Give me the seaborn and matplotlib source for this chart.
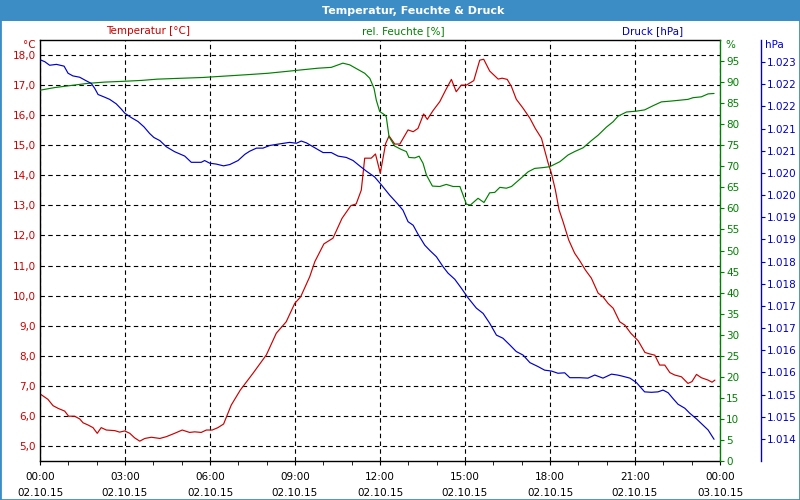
import numpy as np
import matplotlib
matplotlib.use("Agg")
import matplotlib.pyplot as plt
import matplotlib.ticker as mticker
from matplotlib.patches import Rectangle
import seaborn as sns

# ---------------- data (hours since 02.10.15 00:00) ----------------
temp_h = [0.02, 0.28, 0.46, 0.64, 0.87, 1.01, 1.22, 1.40, 1.52, 1.69, 1.87, 2.02, 2.16, 2.34, 2.64,
          2.81, 2.99, 3.17, 3.34, 3.52, 3.70, 3.93, 4.23, 4.46, 4.75, 5.02, 5.28, 5.46, 5.69, 5.87,
          6.08, 6.28, 6.48, 6.75, 7.07, 7.52, 7.99, 8.34, 8.69, 8.99, 9.20, 9.52, 9.70, 10.02, 10.34,
          10.66, 10.97, 11.16, 11.34, 11.46, 11.69, 11.84, 12.01, 12.20, 12.32, 12.52, 12.70, 12.99,
          13.17, 13.34, 13.54, 13.67, 13.87, 14.11, 14.32, 14.52, 14.69, 14.87, 15.05, 15.31, 15.52,
          15.66, 15.87, 16.17, 16.31, 16.49, 16.64, 16.81, 17.05, 17.29, 17.48, 17.70, 17.81, 17.93,
          18.05, 18.19, 18.32, 18.46, 18.66, 18.87, 19.05, 19.25, 19.46, 19.70, 19.87, 20.05, 20.23,
          20.46, 20.64, 20.85, 21.11, 21.35, 21.52, 21.70, 21.87, 22.05, 22.23, 22.40, 22.64, 22.87,
          23.01, 23.17, 23.34, 23.58, 23.72, 23.82]
temp_c = [6.72, 6.55, 6.34, 6.25, 6.16, 5.99, 5.99, 5.90, 5.77, 5.70, 5.61, 5.42, 5.61, 5.53, 5.51,
          5.46, 5.50, 5.42, 5.27, 5.16, 5.25, 5.29, 5.25, 5.31, 5.42, 5.53, 5.45, 5.47, 5.45, 5.53,
          5.53, 5.61, 5.73, 6.36, 6.86, 7.42, 8.03, 8.75, 9.13, 9.74, 9.96, 10.63, 11.13, 11.72, 11.91,
          12.57, 12.99, 13.05, 13.51, 14.57, 14.57, 14.71, 14.07, 15.06, 15.31, 15.04, 15.04, 15.51,
          15.45, 15.56, 16.04, 15.86, 16.15, 16.45, 16.84, 17.19, 16.78, 17.00, 17.00, 17.15, 17.83,
          17.86, 17.47, 17.20, 17.23, 17.19, 16.95, 16.53, 16.23, 15.90, 15.56, 15.23, 14.84, 14.42,
          14.07, 13.51, 12.85, 12.46, 11.85, 11.41, 11.16, 10.85, 10.58, 10.08, 9.96, 9.74, 9.58,
          9.13, 9.02, 8.75, 8.50, 8.11, 8.06, 8.02, 7.69, 7.69, 7.44, 7.36, 7.30, 7.08,
          7.14, 7.38, 7.27, 7.19, 7.12, 7.19]

hum_h = [0.02, 0.52, 1.10, 1.69, 2.28, 2.99, 3.58, 4.14, 4.93, 5.75, 6.46, 7.40, 8.05, 8.64, 9.22,
         9.81, 10.28, 10.69, 10.93, 11.22, 11.46, 11.64, 11.79, 11.87, 11.99, 12.17, 12.22, 12.32,
         12.52, 12.75, 12.93, 13.02, 13.23, 13.38, 13.52, 13.64, 13.85, 14.11, 14.34, 14.58, 14.82,
         14.93, 15.05, 15.19, 15.46, 15.67, 15.87, 16.05, 16.23, 16.46, 16.64, 16.93, 17.23, 17.46,
         17.76, 17.99, 18.35, 18.64, 18.87, 19.17, 19.46, 19.70, 19.99, 20.23, 20.40, 20.70, 21.05,
         21.34, 21.64, 21.93, 22.28, 22.58, 22.87, 23.05, 23.34, 23.58, 23.79]
hum_pct = [88.1, 88.7, 89.2, 89.7, 90.0, 90.2, 90.4, 90.7, 90.9, 91.1, 91.4, 91.8, 92.1, 92.5, 92.9,
           93.3, 93.5, 94.5, 94.1, 93.0, 92.1, 90.9, 88.5, 85.7, 83.0, 82.2, 81.8, 77.0,
           74.8, 74.0, 73.5, 72.1, 72.0, 72.4, 70.7, 67.9, 65.3, 65.2, 65.7, 65.2, 65.2,
           63.2, 61.0, 60.8, 62.4, 61.4, 63.7, 63.8, 65.0, 64.8, 65.2, 66.9, 68.7, 69.5,
           69.7, 69.9, 71.1, 72.7, 73.5, 74.4, 76.1, 77.4, 79.3, 80.6, 81.9, 82.9, 83.1,
           83.4, 84.4, 85.3, 85.5, 85.7, 85.9, 86.3, 86.5, 87.2, 87.3]

pres_h = [0.02, 0.17, 0.34, 0.58, 0.85, 0.99, 1.16, 1.40, 1.63, 1.81, 1.93, 2.05, 2.28, 2.46, 2.69,
          2.87, 2.99, 3.22, 3.46, 3.67, 3.87, 4.02, 4.23, 4.46, 4.75, 5.11, 5.34, 5.69, 5.81, 5.99,
          6.22, 6.48, 6.70, 6.99, 7.23, 7.40, 7.64, 7.87, 8.11, 8.40, 8.81, 9.05, 9.22, 9.40, 9.64,
          9.99, 10.28, 10.52, 10.81, 11.05, 11.28, 11.52, 11.81, 12.05, 12.34, 12.64, 12.81, 12.99,
          13.17, 13.34, 13.58, 13.76, 13.99, 14.23, 14.40, 14.64, 14.87, 15.11, 15.40, 15.64, 15.87,
          16.11, 16.34, 16.58, 16.81, 17.05, 17.29, 17.58, 17.81, 18.05, 18.28, 18.52, 18.70, 19.05,
          19.34, 19.58, 19.87, 20.17, 20.38, 20.52, 20.82, 21.05, 21.34, 21.58, 21.81, 21.99, 22.17,
          22.34, 22.52, 22.76, 22.93, 23.17, 23.40, 23.58, 23.79]
pres_hpa = [1022.55, 1022.51, 1022.43, 1022.45, 1022.41, 1022.25, 1022.19, 1022.16, 1022.08, 1022.02,
            1021.91, 1021.77, 1021.71, 1021.66, 1021.56, 1021.44, 1021.35, 1021.25, 1021.16, 1021.04,
            1020.89, 1020.80, 1020.73, 1020.59, 1020.48, 1020.38, 1020.24, 1020.24, 1020.28, 1020.22,
            1020.20, 1020.16, 1020.19, 1020.28, 1020.42, 1020.49, 1020.56, 1020.56, 1020.62, 1020.65,
            1020.69, 1020.67, 1020.72, 1020.68, 1020.59, 1020.46, 1020.46, 1020.38, 1020.35, 1020.28,
            1020.16, 1020.04, 1019.91, 1019.73, 1019.50, 1019.29, 1019.16, 1018.90, 1018.82, 1018.62,
            1018.37, 1018.25, 1018.11, 1017.88, 1017.74, 1017.60, 1017.40, 1017.18, 1016.95, 1016.83,
            1016.61, 1016.34, 1016.27, 1016.12, 1015.97, 1015.89, 1015.72, 1015.63, 1015.55, 1015.53,
            1015.48, 1015.49, 1015.38, 1015.38, 1015.37, 1015.44, 1015.37, 1015.46, 1015.44, 1015.42,
            1015.37, 1015.27, 1015.06, 1015.05, 1015.06, 1015.10, 1015.04, 1014.91, 1014.78, 1014.69,
            1014.58, 1014.45, 1014.31, 1014.20, 1013.99]

x_ticks = [0, 3, 6, 9, 12, 15, 18, 21, 24]
x_labels = ["00:00\n02.10.15", "03:00\n02.10.15", "06:00\n02.10.15", "09:00\n02.10.15",
            "12:00\n02.10.15", "15:00\n02.10.15", "18:00\n02.10.15", "21:00\n02.10.15",
            "00:00\n03.10.15"]
temp_ticks = list(range(5, 19))
hum_ticks = list(range(0, 100, 5))
pres_ticks = [1014.0 + 0.5 * i for i in range(18)]

title = "Temperatur, Feuchte & Druck"
series_names = ["Temperatur [°C]", "rel. Feuchte [%]", "Druck [hPa]"]
units = ["°C", "%", "hPa"]

# ---------------- style ----------------
sns.set_style("white")
plt.rcParams['font.family'] = ['DejaVu Sans']
plt.rcParams['font.size'] = 7.5

RED = "#cc0000"
GREEN = "#008000"
BLUE = "#0000cc"
BAR = "#3c8dc6"

fig = plt.figure(figsize=(8, 5), dpi=100, facecolor="white")
ax = fig.add_axes([40 / 800, 39 / 500, 680 / 800, 421 / 500])
ax_h = ax.twinx()
ax_p = ax.twinx()

sns.lineplot(x=temp_h, y=temp_c, ax=ax, color=RED, linewidth=0.85)
sns.lineplot(x=hum_h, y=hum_pct, ax=ax_h, color=GREEN, linewidth=0.85)
sns.lineplot(x=pres_h, y=pres_hpa, ax=ax_p, color=BLUE, linewidth=0.85)

ax.set_xlim(0, 24)
ax.set_ylim(4.5, 18.5)
ax_h.set_ylim(0, 100)
ax_p.set_ylim(1013.5, 1023.0)

for a in (ax, ax_h, ax_p):
    a.set_xlabel("")
    a.set_ylabel("")

# main axis
ax.set_xticks(x_ticks)
ax.set_xticklabels(x_labels, linespacing=1.75)
ax.xaxis.set_minor_locator(mticker.MultipleLocator(1))
ax.set_yticks(temp_ticks)
ax.yaxis.set_major_formatter(mticker.FuncFormatter(lambda v, p: f"{v:.1f}".replace(".", ",")))
ax.grid(True, which="major", color="black", linestyle=(0, (4, 3)), linewidth=0.8)
ax.tick_params(axis="y", colors=RED, length=0, pad=3, labelsize=7.5)
ax.tick_params(axis="x", which="both", direction="out", length=3, color="black",
               labelcolor="black", pad=5, labelsize=7.5, bottom=True)
for s in ("left", "bottom", "top"):
    ax.spines[s].set_color("black")
    ax.spines[s].set_linewidth(1.0)
ax.spines["right"].set_visible(False)

# humidity axis
ax_h.set_yticks(hum_ticks)
ax_h.tick_params(axis="y", colors=GREEN, length=3, pad=1.5, direction="out", labelsize=7.5)
for s in ("left", "bottom", "top"):
    ax_h.spines[s].set_visible(False)
ax_h.spines["right"].set_color(GREEN)
ax_h.spines["right"].set_linewidth(1.0)

# pressure axis
def pres_fmt(v, pos):
    n = int(np.floor(v + 0.5 + 1e-9))
    return f"{n // 1000}.{n % 1000:03d}"

ax_p.set_yticks(pres_ticks)
ax_p.yaxis.set_major_formatter(mticker.FuncFormatter(pres_fmt))
ax_p.spines["right"].set_position(("axes", 721 / 680))
for s in ("left", "bottom", "top"):
    ax_p.spines[s].set_visible(False)
ax_p.spines["right"].set_color(BLUE)
ax_p.spines["right"].set_linewidth(1.0)
ax_p.tick_params(axis="y", colors=BLUE, length=3, pad=1.5, direction="out", labelsize=7.5)

# title bar and frame
fig.add_artist(Rectangle((0, 1 - 21 / 500), 1, 21 / 500, transform=fig.transFigure,
                         facecolor=BAR, edgecolor="none", zorder=0))
fig.add_artist(Rectangle((0, 0), 1, 1, transform=fig.transFigure, fill=False,
                         edgecolor=BAR, linewidth=2, zorder=0))
fig.text(413 / 800, 1 - 10.5 / 500, title, color="white", fontweight="bold",
         ha="center", va="center", fontsize=8)

# series names
fig.text(148 / 800, 1 - 31 / 500, series_names[0], color=RED, ha="center", va="center")
fig.text(403 / 800, 1 - 31 / 500, series_names[1], color=GREEN, ha="center", va="center")
fig.text(653 / 800, 1 - 31 / 500, series_names[2], color=BLUE, ha="center", va="center")

# units
fig.text(36 / 800, 1 - 45 / 500, units[0], color=RED, ha="right", va="center")
fig.text(725 / 800, 1 - 45 / 500, units[1], color=GREEN, ha="left", va="center")
fig.text(765 / 800, 1 - 45 / 500, units[2], color=BLUE, ha="left", va="center")

fig.savefig("out.png", dpi=100, facecolor="white")
